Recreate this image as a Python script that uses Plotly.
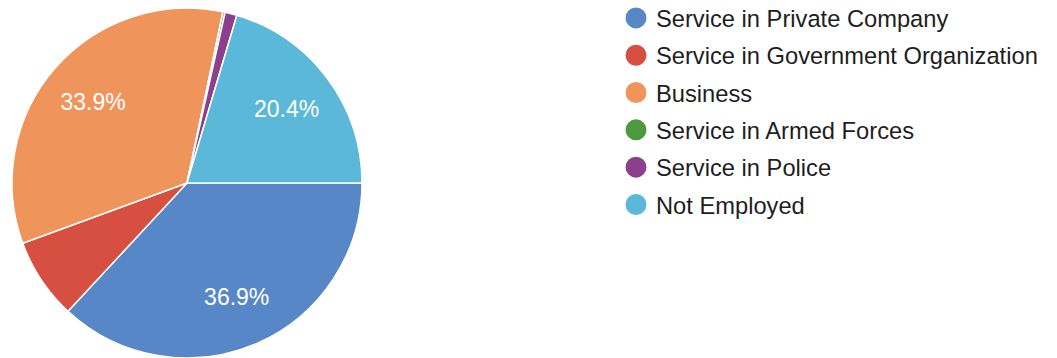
import plotly.graph_objects as go

categories = ["Service in Private Company", "Service in Government Organization", "Business",
              "Service in Armed Forces", "Service in Police", "Not Employed"]
values = [36.9, 7.5, 33.9, 0.2, 1.1, 20.4]
colors = ["#5787c6", "#d64f40", "#ef955c", "#4e9b3f", "#8c3f8c", "#5bb8d9"]
show_label = [True, False, True, False, False, True]

FONT = "Arial, Liberation Sans, Helvetica, sans-serif"
W, H = 1057, 358
TOP = 8
PH = H - TOP
DOMAIN = dict(x=[12 / W, 362 / W], y=[0, 1])

fig = go.Figure()
# coloured slices
fig.add_trace(go.Pie(
    labels=categories, values=values, sort=False, direction="clockwise", rotation=90,
    marker=dict(colors=colors, line=dict(color="white", width=1.5)),
    textinfo="none", showlegend=False, hoverinfo="label+percent",
    domain=DOMAIN,
))
# transparent ring carrying the percentage labels
fig.add_trace(go.Pie(
    labels=categories, values=values, sort=False, direction="clockwise", rotation=90,
    hole=0.42,
    marker=dict(colors=["rgba(0,0,0,0)"] * len(values), line=dict(width=0)),
    texttemplate=["%{percent:.1%}" if s else "" for s in show_label],
    textposition="inside", insidetextorientation="horizontal",
    insidetextfont=dict(color="white", size=23, family=FONT),
    showlegend=False, hoverinfo="skip",
    domain=DOMAIN,
))
for i, (c, col) in enumerate(zip(categories, colors)):
    fig.add_trace(go.Scatter(
        x=[None], y=[None], mode="markers", name=c, legendgroup=f"g{i}",
        marker=dict(color=col, size=16, symbol="circle", line=dict(color=col, width=6)),
        showlegend=True,
    ))

fig.update_layout(
    width=W, height=H,
    margin=dict(l=0, r=0, t=TOP, b=0, autoexpand=False),
    paper_bgcolor="white", plot_bgcolor="white",
    xaxis=dict(visible=False), yaxis=dict(visible=False),
    legend=dict(x=616 / W, xanchor="left", y=1 + 12 / PH, yanchor="top",
                font=dict(size=23.7, family=FONT, color="#1e1e1e"),
                tracegroupgap=3.5, bgcolor="rgba(0,0,0,0)", borderwidth=0,
                maxheight=1.0),
    showlegend=True,
)
fig.write_html("out.html", config={"displayModeBar": False},
               post_script="document.body.style.margin='0px';")
